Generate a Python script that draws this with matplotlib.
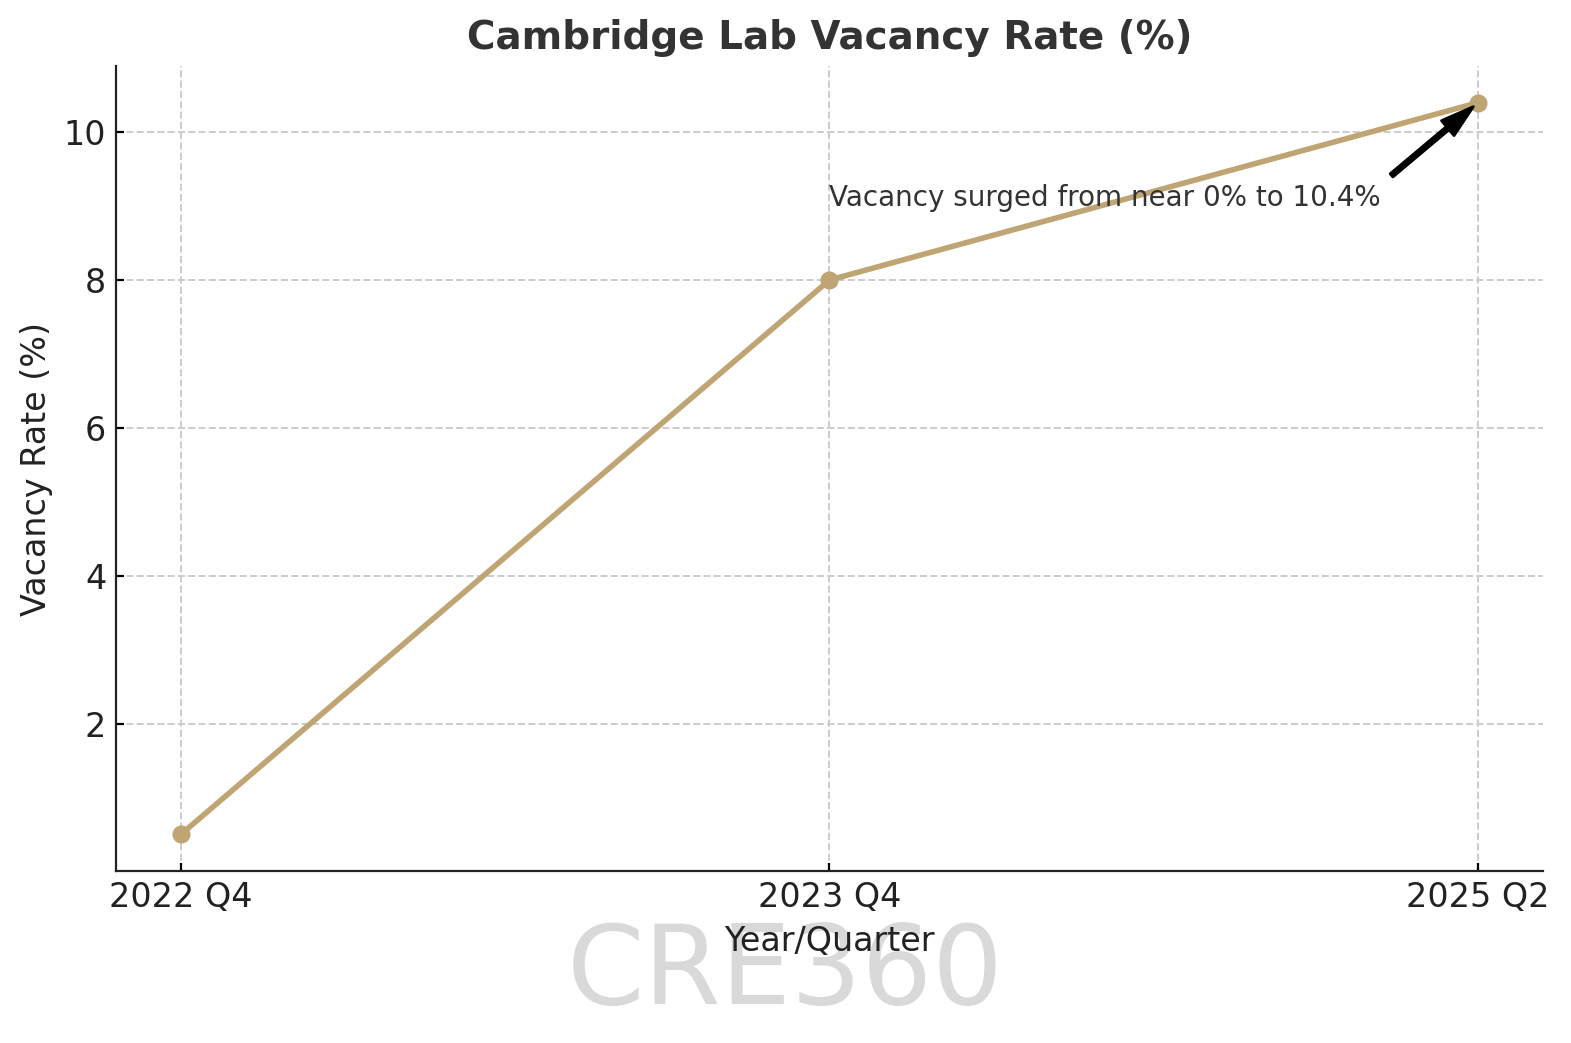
import matplotlib.pyplot as plt

quarters = ["2022 Q4", "2023 Q4", "2025 Q2"]
vacancy = [0.5, 8.0, 10.4]
note = "Vacancy surged from near 0% to 10.4%"

fig = plt.figure(figsize=(7.855, 5.215), dpi=200)
ax = fig.add_axes([0.0738, 0.1649, 0.9084, 0.7718])

x = list(range(len(quarters)))
ax.plot(x, vacancy, marker='o', color='#C0A574', linewidth=2, markersize=5.5)

ax.set_xticks(x)
ax.set_xticklabels(quarters, fontsize=12, color='#222222')
ax.tick_params(axis='both', direction='in', length=3)
ax.tick_params(axis='y', labelsize=12, labelcolor='#222222')
ax.set_xlim(-0.1, 2.1)
ax.set_yticks([2, 4, 6, 8, 10])

ax.set_title("Cambridge Lab Vacancy Rate (%)", fontsize=14, fontweight='bold', color='#333333')
ax.set_xlabel("Year/Quarter", fontsize=12, color='#222222')
ax.set_ylabel("Vacancy Rate (%)", fontsize=12, color='#222222')

ax.grid(True, linestyle='--', color='#cccccc', linewidth=0.7)
ax.spines['top'].set_visible(False)
ax.spines['right'].set_visible(False)
for s in ['left', 'bottom']:
    ax.spines[s].set_color('#222222')

ax.annotate(note, xy=(2, vacancy[2]), xytext=(1, 9), fontsize=10, color='#333333',
            arrowprops=dict(facecolor='black', shrink=0.05, width=1.5, headwidth=7))

# watermark sits behind the axes labels
fig.text(0.5, 0.067, "CRE360", fontsize=40, color='#d9d9d9', ha='center', va='center', zorder=-1)

fig.savefig("out.png", dpi=200)
